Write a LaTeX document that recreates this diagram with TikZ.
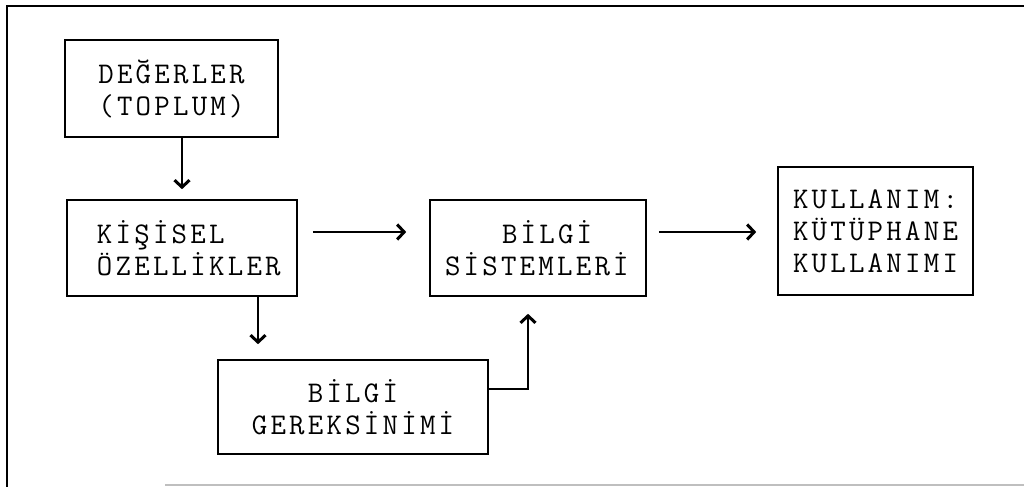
\documentclass[tikz,border=0pt]{standalone}
\usepackage{fontspec}
\newfontfamily\tw{Latin Modern Mono}[LetterSpace=10.8]
\usetikzlibrary{arrows.meta,calc}
\tikzset{
  box/.style={draw, line width=0.8pt, inner sep=0pt, font=\tw\fontsize{15}{16}\selectfont},
  arr/.style={line width=0.8pt, -{Straight Barb[length=3.5pt,width=7.5pt,line width=1.5pt]}},
  frame/.style={line width=0.9pt}
}
\begin{document}
\begin{tikzpicture}[x=0.5pt,y=-0.5pt]
\useasboundingbox (0,0) rectangle (1024,487);
% outer frame
\draw[frame] (1024,6) -- (7,6) -- (7,487);
\draw[line width=0.6pt, black!25] (165,485) -- (1024,485);
% boxes
\node[box, text width=106.5pt, align=center, minimum height=48.5pt] (b1) at (171.5,88.5) {DEĞERLER\\(TOPLUM)};
\node[box, text width=115pt, align=left, minimum height=48pt] (b2) at (182,248) {\hspace*{15pt}KİŞİSEL\\\hspace*{15pt}ÖZELLİKLER};
\node[box, text width=108pt, align=left, minimum height=48pt] (b3) at (538,248) {\hspace*{36pt}BİLGİ\\\hspace*{7.5pt}SİSTEMLERİ};
\node[box, text width=97.5pt, align=left, minimum height=64pt] (b4) at (875.5,231) {\hspace*{7.5pt}KULLANIM:\\\hspace*{7.5pt}KÜTÜPHANE\\\hspace*{7.5pt}KULLANIMI};
\node[box, text width=135pt, align=center, minimum height=47pt] (b5) at (353,407) {BİLGİ\\GEREKSİNİMİ};
% helper coordinates
\coordinate (c1) at (182,0);
\coordinate (c4) at (258,0);
% connectors
\draw[arr, shorten >=5pt] (b1.south -| c1) -- (b2.north -| c1);
\draw[arr] ($(b2.east)+(15,-16)$) -- ($(b3.west)+(-23,-16)$);
\draw[arr] ($(b3.east)+(12,-16)$) -- ($(b4.west)+(-21,1)$);
\draw[arr, shorten >=7.5pt] (b2.south -| c4) -- (b5.north -| c4);
\draw[arr, shorten >=8.5pt] ($(b5.east)+(0,-18)$) -| ($(b3.south)+(-10,0)$);
\end{tikzpicture}
\end{document}
